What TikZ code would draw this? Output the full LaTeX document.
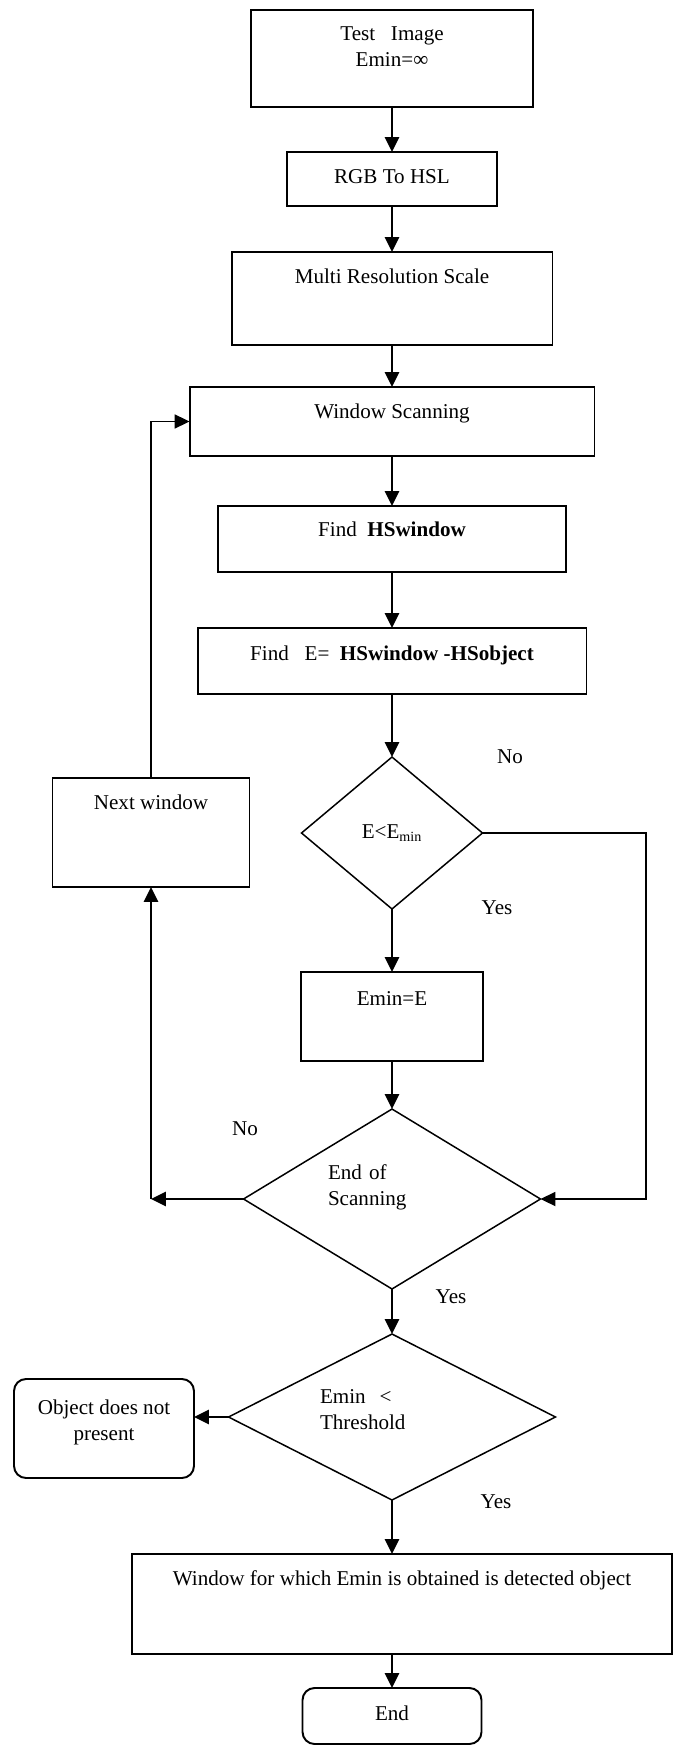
\documentclass[tikz,border=0pt]{standalone}
\usepackage{fontspec}
\setmainfont{Liberation Serif}
\usetikzlibrary{shapes.geometric,arrows.meta}

\tikzset{
  stepbox/.style={draw, line width=1.1pt, anchor=north, inner xsep=0pt, inner ysep=0pt,
    outer sep=0pt, align=center, font=\fontsize{12pt}{14.8pt}\selectfont},
  roundbox/.style={stepbox, rounded corners=0.24cm},
  decision/.style={draw, diamond, line width=0.85pt, inner sep=0pt, outer sep=0pt,
    align=left, font=\fontsize{12pt}{14.8pt}\selectfont},
  flow/.style={-{Triangle[width=8pt,length=8.5pt]}, line width=1.4pt},
  answer/.style={font=\fontsize{12pt}{14.8pt}\selectfont}
}

\begin{document}
\begin{tikzpicture}[x=0.02cm,y=-0.02cm]
  \useasboundingbox (0,0) rectangle (683,1747);

  % main column
  \node[stepbox, minimum width=5.64cm, text height=1.14cm, text depth=0.80cm] (test) at (392,10) {Test\ \ \ Image\\Emin=∞};
  \node[stepbox, minimum width=4.2cm, text height=0.64cm, text depth=0.44cm] (rgb) at (392,152) {RGB To HSL};
  \node[stepbox, minimum width=6.42cm, text height=0.64cm, text depth=1.22cm] (multi) at (392,252) {Multi Resolution Scale};
  \node[stepbox, minimum width=8.1cm, text height=0.64cm, text depth=0.74cm] (scan) at (392,387) {Window Scanning};
  \node[stepbox, minimum width=6.96cm, text height=0.62cm, text depth=0.70cm] (hsWin) at (392,506) {Find\ \ \textbf{HSwindow}};
  \node[stepbox, minimum width=7.78cm, text height=0.64cm, text depth=0.68cm] (findE) at (392,628) {Find\ \ \ E=\ \ \textbf{HSwindow -HSobject}};
  \node[decision, minimum width=3.62cm, minimum height=3.04cm] (eCheck) at (392,833) {E<E\textsubscript{min}};
  \node[stepbox, minimum width=3.64cm, text height=0.66cm, text depth=1.12cm] (eMin) at (392,972) {Emin=E};
  \node[decision, shape aspect=1.65, text width=2.56cm, text height=0.3cm, text depth=1.1cm, minimum width=5.94cm, minimum height=3.6cm] (scanEnd) at (392,1199) {End of\\Scanning};
  \node[decision, shape aspect=1.97, text width=2.88cm, text height=0.3cm, text depth=0.86cm, minimum width=6.54cm, minimum height=3.32cm] (thrCheck) at (392,1417) {Emin\ \ <\\Threshold};
  \node[stepbox, minimum width=10.8cm, text height=0.62cm, text depth=1.38cm] (found) at (402,1554) {Window for which Emin is obtained is detected object};
  \node[roundbox, minimum width=3.58cm, text height=0.64cm, text depth=0.48cm] (finish) at (392,1688) {End};

  % side boxes
  \node[stepbox, minimum width=3.94cm, text height=0.62cm, text depth=1.56cm] (nextWin) at (151,778) {Next window};
  \node[roundbox, minimum width=3.6cm, text height=1.22cm, text depth=0.76cm] (noObj) at (104,1379) {Object does not\\present};

  % turning points
  \coordinate (rightTurn) at (646,1199);
  \coordinate (leftTurn) at (151,1199);

  % answers
  \node[answer] (noE) at (510,757) {No};
  \node[answer] (yesE) at (497,908) {Yes};
  \node[answer] (noScan) at (245,1129) {No};
  \node[answer] (yesScan) at (451,1297) {Yes};
  \node[answer] (yesThr) at (496,1502) {Yes};

  \draw[flow] (test) -- (rgb);
  \draw[flow] (rgb) -- (multi);
  \draw[flow] (multi) -- (scan);
  \draw[flow] (scan) -- (hsWin);
  \draw[flow] (hsWin) -- (findE);
  \draw[flow] (findE) -- (eCheck);
  \draw[flow] (eCheck) -- (eMin);
  \draw[flow] (eMin) -- (scanEnd);
  \draw[flow] (scanEnd) -- (thrCheck);
  \draw[flow] (thrCheck.south) -- (thrCheck.south |- found.north);
  \draw[flow] (found.south -| finish.north) -- (finish.north);
  \draw[flow] (thrCheck.west) -- (thrCheck.west -| noObj.east);

  \draw[flow, line width=0.9pt] (nextWin.north) |- (scan.west);
  \draw[flow, line width=0.9pt] (eCheck.east) -| (rightTurn) -- (scanEnd.east);
  \draw[flow] (scanEnd.west) -- (leftTurn);
  \draw[flow] (leftTurn) -- (nextWin.south);

\end{tikzpicture}
\end{document}
